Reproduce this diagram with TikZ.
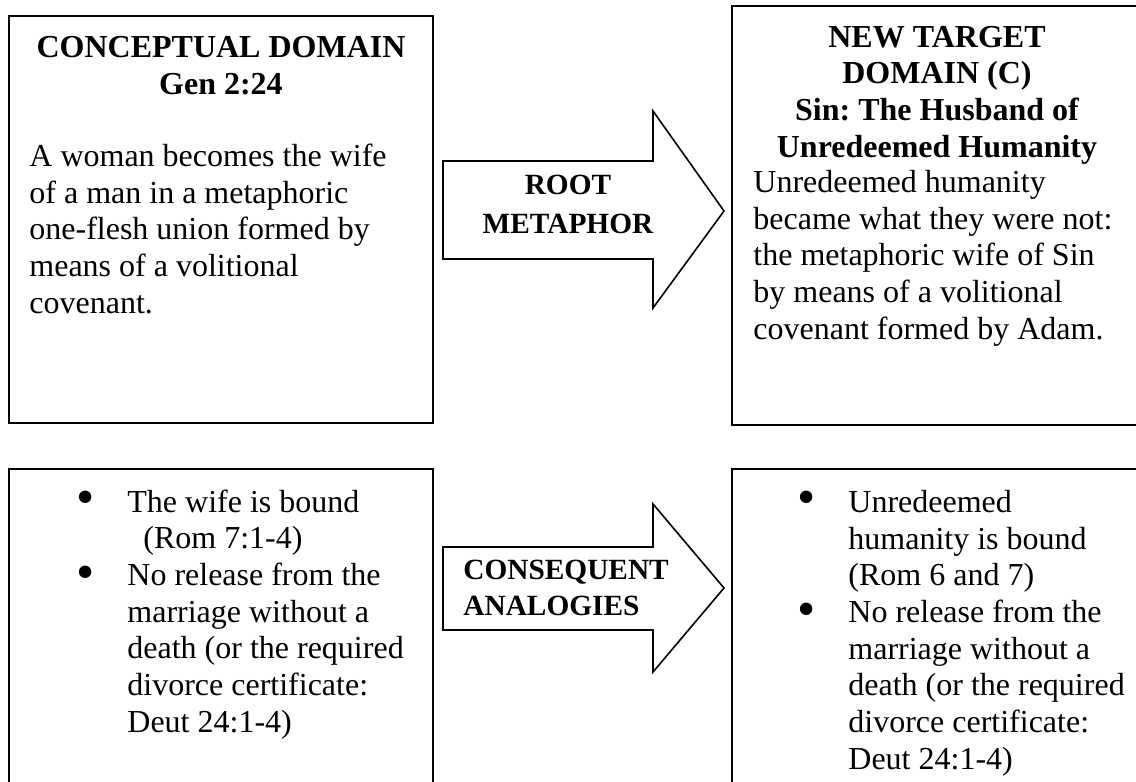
\documentclass[tikz,border=0pt]{standalone}
\usepackage{fontspec}
\setmainfont{Liberation Serif}
\frenchspacing
\begin{document}
\begin{tikzpicture}[x=0.5pt,y=-0.5pt]
\tikzset{
  box/.style={draw, line width=1pt, rectangle, inner sep=0pt},
  headtext/.style={font=\bfseries\fontsize{16}{18.33}\selectfont, align=center, inner sep=0pt},
  bodytext/.style={font=\fontsize{16}{18.33}\selectfont, align=left, inner sep=0pt},
  bulletmark/.style={font=\fontsize{26}{26}\selectfont, inner sep=0pt, anchor=center},
  blockarrow/.style={draw, line width=0.8pt, fill=white, line join=miter},
  arrowtext/.style={inner sep=0pt},
}
\clip (0,0) rectangle (1136,782);
\fill[white] (0,0) rectangle (1136,782);

% boxes
\node[box, minimum width=212pt, minimum height=203.5pt] (tl) at (221,219.5) {};
\node[box, minimum width=205pt, minimum height=209.5pt] (tr) at (937,215.5) {};
\node[box, minimum width=212pt, minimum height=166pt] (bl) at (221,635) {};
\node[box, minimum width=205pt, minimum height=166pt] (br) at (937,635) {};

% top-left content (anchors at the baseline of the last line)
\node[headtext, anchor=base] (tlh) at (221,94) {CONCEPTUAL DOMAIN\\Gen 2:24};
\node[bodytext, anchor=base west] (tlb) at (29,313) {A woman becomes the wife\\of a man in a metaphoric\\one-flesh union formed by\\means of a volitional\\covenant.};

% top-right content
\node[headtext, anchor=base] (trh) at (937,157) {NEW TARGET\\DOMAIN (C)\\Sin: The Husband of\\Unredeemed Humanity};
\node[bodytext, anchor=base west] (trb) at (753,339) {Unredeemed humanity\\became what they were not:\\the metaphoric wife of Sin\\by means of a volitional\\covenant formed by Adam.};

% top arrow
\draw[blockarrow] (443,161) -- (653,161) -- (653,111) -- (724,211) -- (653,308) -- (653,259) -- (443,259) -- cycle;
\node[arrowtext, align=center, anchor=base, font=\bfseries\fontsize{14.67}{19.3}\selectfont] (rm) at (568,233) {ROOT\\METAPHOR};

% bottom arrow
\draw[blockarrow] (443,547) -- (653,547) -- (653,504) -- (724,588) -- (653,672) -- (653,630) -- (443,630) -- cycle;
\node[arrowtext, align=left, anchor=base west, font=\bfseries\fontsize{14.67}{17.8}\selectfont] (ca) at (463,615) {CONSEQUENT\\ANALOGIES};

% bottom-left list
\node[bulletmark] (blb1) at (86,503) {•};
\node[bulletmark] (blb2) at (86,578) {•};
\node[bodytext, anchor=base west] (blt) at (127,732) {The wife is bound\\\hspace*{8pt}(Rom 7:1-4)\\No release from the\\marriage without a\\death (or the required\\divorce certificate:\\Deut 24:1-4)};

% bottom-right list
\node[bulletmark] (brb1) at (807,503) {•};
\node[bulletmark] (brb2) at (807,615) {•};
\node[bodytext, anchor=base west] (brt) at (848,769) {Unredeemed\\humanity is bound\\(Rom 6 and 7)\\No release from the\\marriage without a\\death (or the required\\divorce certificate:\\Deut 24:1-4)};
\end{tikzpicture}
\end{document}
